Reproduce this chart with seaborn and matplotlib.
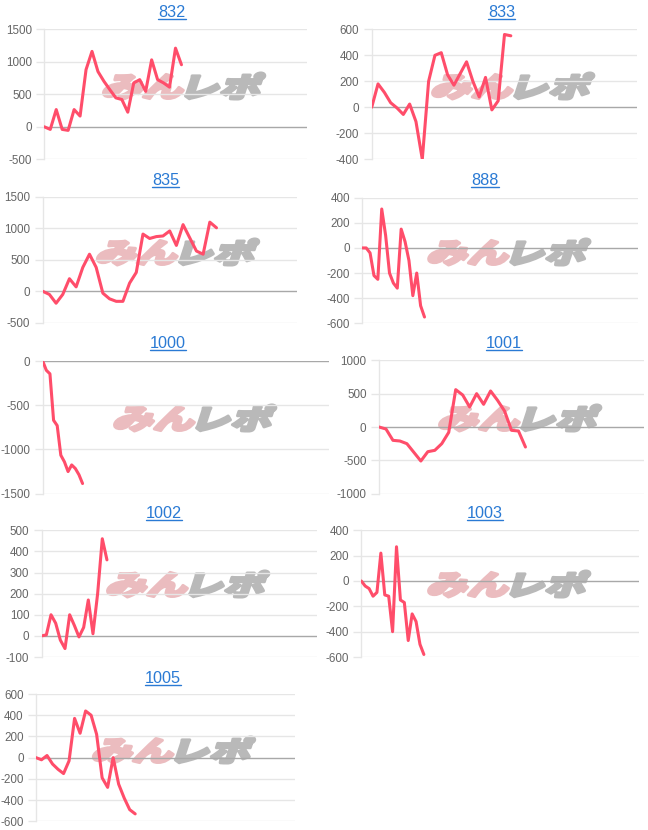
import numpy as np
import pandas as pd
import matplotlib
matplotlib.use("Agg")
import matplotlib.pyplot as plt
import seaborn as sns
from matplotlib.textpath import TextPath
from matplotlib.patches import PathPatch
from matplotlib.font_manager import FontProperties
from matplotlib.transforms import Affine2D, IdentityTransform
from matplotlib.lines import Line2D

sns.set_theme(style="white")
plt.rcParams["font.family"] = ["Liberation Sans", "DejaVu Sans"]

# ---------------- data ----------------
titles = ["832", "833", "835", "888", "1000", "1001", "1002", "1003", "1005"]

v832 = [0, -40, 265, -40, -55, 265, 165, 880, 1160, 850, 700, 570, 445, 420, 225,
        675, 725, 545, 1030, 725, 675, 610, 1210, 955]
v833 = [0, 180, 115, 35, -5, -55, 25, -110, -400, 200, 400, 420, 250, 170, 260,
        350, 200, 80, 230, -20, 50, 560, 550]
v835 = [0, -50, -190, -50, 200, 70, 380, 590, 380, -30, -120, -160, -160, 130, 300,
        910, 840, 870, 880, 960, 730, 1060, 850, 640, 590, 1100, 1010]
v888 = [0, 0, -40, -220, -250, 310, 100, -200, -280, -320, 150, 50, -100, -380,
        -200, -460, -550]
v1000 = [0, -105, -145, -670, -730, -1065, -1140, -1250, -1175, -1215, -1285, -1385]
v1001 = [0, -30, -200, -210, -250, -380, -510, -370, -350, -250, -80, 560, 480, 300,
         500, 340, 540, 400, 240, -50, -60, -300]
v1002 = [0, 5, 100, 60, -20, -60, 100, 50, -5, 40, 170, 10, 200, 460, 360]
v1003 = [0, -40, -60, -120, -90, 220, -110, -120, -400, 270, -150, -170, -470, -260,
         -320, -500, -580]
v1005 = [0, -20, 20, -60, -110, -150, -30, 370, 230, 440, 400, 220, -190, -280, 0,
         -250, -380, -490, -530]
series = [v832, v833, v835, v888, v1000, v1001, v1002, v1003, v1005]

yticks = [
    [-500, 0, 500, 1000, 1500],
    [-400, -200, 0, 200, 400, 600],
    [-500, 0, 500, 1000, 1500],
    [-600, -400, -200, 0, 200, 400],
    [-1500, -1000, -500, 0],
    [-1000, -500, 0, 500, 1000],
    [-100, 0, 100, 200, 300, 400, 500],
    [-600, -400, -200, 0, 200, 400],
    [-600, -400, -200, 0, 200, 400, 600],
]

# ---------------- layout (pixels) ----------------
W, H = 648, 830
boxes = [  # x0, x1, y0(top), y1(bottom)
    (44.3, 306.7, 29.3, 159.3),
    (371.7, 637.3, 29.3, 159.3),
    (42.7, 296.7, 197.0, 322.7),
    (362.3, 638.3, 197.7, 323.3),
    (42.7, 329.0, 361.0, 493.7),
    (379.0, 644.0, 360.3, 493.7),
    (41.7, 316.7, 530.3, 657.0),
    (361.3, 639.0, 530.3, 657.0),
    (36.0, 295.0, 694.0, 821.3),
]
xslots = [44, 42, 38, 71, 79, 38, 59, 71, 47]
title_pos = [(172, 16.7), (501.7, 16.7), (165.7, 185), (485, 185), (167.7, 347.8),
             (504, 347.8), (164.3, 517.8), (484.7, 517.8), (162.7, 682.5)]
row_tops = [0, 0, 166, 166, 332, 332, 498, 498, 664]

LINE = "#ff4d6a"
GRID = "#e6e6e6"
ZERO = "#a8a8a8"
TICKC = "#666666"
LINK = "#2a7ad4"

fig = plt.figure(figsize=(W / 100, H / 100), dpi=100)
fig.patch.set_facecolor("white")

# watermark glyph paths
fp = FontProperties(family=["Noto Sans CJK JP"], weight="black")
p_min = TextPath((0, 0), "みん", size=1, prop=fp)
p_repo = TextPath((0, 0), "レポ", size=1, prop=fp)


def add_watermark(cx, cy_top):
    total_w = 156.0
    h_target = 26.0
    e1 = p_min.get_extents()
    e2 = p_repo.get_extents()
    hh = max(e1.height, e2.height)
    s = h_target / hh
    w1 = e1.width * s
    w2 = e2.width * s
    gap = 4.0
    sx = (total_w - gap) / (w1 + w2)
    x_left = cx - total_w / 2
    y_base = (H - cy_top) - h_target / 2
    for path, ext, color, xoff in [
        (p_min, e1, "#ebbcbf", 0.0),
        (p_repo, e2, "#b9b9b9", w1 * sx + gap),
    ]:
        tr = (Affine2D().translate(-ext.x0, -ext.y0).scale(s * sx, s)
              .skew_deg(18, 0).translate(x_left + xoff - 4, y_base))
        patch = PathPatch(tr.transform_path(path), facecolor=color,
                          edgecolor=color, linewidth=2.2, joinstyle="round",
                          transform=IdentityTransform(), zorder=-1)
        fig.add_artist(patch)


for i in range(9):
    x0, x1, y0, y1 = boxes[i]
    ax = fig.add_axes([x0 / W, (H - y1) / H, (x1 - x0) / W, (y1 - y0) / H])
    ax.set_facecolor("none")
    vals = series[i]
    df = pd.DataFrame({"x": np.arange(len(vals)), "y": vals})
    sns.lineplot(data=df, x="x", y="y", ax=ax, color=LINE, linewidth=2.2, zorder=3)
    ax.set_xlim(0, xslots[i])
    yt = yticks[i]
    ax.set_ylim(yt[0], yt[-1])
    ax.set_yticks(yt)
    ax.set_yticklabels([str(t) for t in yt])
    ax.set_xticks([])
    ax.set_xlabel("")
    ax.set_ylabel("")
    for t in yt:
        ax.axhline(t, color=ZERO if t == 0 else GRID, linewidth=1.0, zorder=1)
    for sp in ["top", "right", "bottom"]:
        ax.spines[sp].set_visible(False)
    ax.spines["left"].set_color(GRID)
    ax.spines["left"].set_linewidth(1.0)
    ax.tick_params(axis="y", length=6, width=1.0, color=GRID, pad=3,
                   labelsize=8.4, labelcolor=TICKC, left=True)
    ax.grid(False)

    tx, ty = title_pos[i]
    fig.text(tx / W, (H - ty) / H, titles[i], ha="center", va="baseline",
             fontsize=11.7, color=LINK)
    add_watermark(x0 + (x1 - x0) * 0.53, row_tops[i] + 86)

fig.canvas.draw()
renderer = fig.canvas.get_renderer()
for t in list(fig.texts):
    bb = t.get_window_extent(renderer)
    _, yb = t.get_position()
    ypx = yb * H - 2.0
    fig.add_artist(Line2D([bb.x0 / W, bb.x1 / W], [ypx / H, ypx / H],
                          color=LINK, linewidth=1.0, transform=fig.transFigure))

fig.savefig("out.png", dpi=100, facecolor="white")
